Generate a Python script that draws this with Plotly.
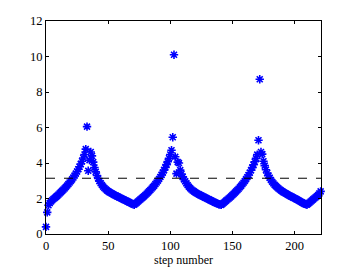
import plotly.graph_objects as go
import math

# step values, x = 0 .. 221
values_cycle1 = [
    0.40, 1.22, 1.62, 1.74, 1.83, 1.90, 1.97, 2.03, 2.09, 2.15,
    2.22, 2.29, 2.36, 2.43, 2.50, 2.57, 2.65, 2.73, 2.81, 2.90,
    2.99, 3.08, 3.18, 3.29, 3.40, 3.52, 3.65, 3.79, 3.94, 4.10,
    4.28, 4.48, 4.78, 6.05, 3.56, 4.16, 4.62, 4.40, 4.05, 3.75,
    3.50, 3.30, 3.13, 2.98, 2.86, 2.76, 2.67, 2.59, 2.52, 2.46,
    2.41, 2.36, 2.32, 2.28, 2.24, 2.20, 2.17, 2.13, 2.10, 2.06,
    2.03, 1.99, 1.96, 1.92, 1.89, 1.85, 1.82, 1.78, 1.75, 1.71,
    1.68, 1.65,
]
values_cycle2 = [
    1.71, 1.77, 1.83, 1.89, 1.95, 2.01, 2.07, 2.13, 2.20,
    2.27, 2.34, 2.41, 2.48, 2.56, 2.64, 2.72, 2.81, 2.90, 3.00,
    3.10, 3.21, 3.33, 3.46, 3.60, 3.75, 3.91, 4.08, 4.27, 4.48,
    4.72, 5.45, 10.10, 4.35, 3.40, 4.05, 4.00, 3.60, 3.38, 3.22,
    3.08, 2.97, 2.85, 2.75, 2.66, 2.58, 2.51, 2.45, 2.40, 2.35,
    2.31, 2.27, 2.23, 2.19, 2.16, 2.12, 2.09, 2.05, 2.02, 1.98,
    1.95, 1.91, 1.88, 1.84, 1.81, 1.77, 1.74, 1.71, 1.68, 1.66,
]
values_cycle3 = [
    1.64, 1.70, 1.76, 1.82, 1.88, 1.94, 2.00, 2.06, 2.12,
    2.19, 2.26, 2.33, 2.40, 2.47, 2.55, 2.63, 2.71, 2.80, 2.89,
    2.99, 3.09, 3.20, 3.32, 3.45, 3.59, 3.74, 3.90, 4.07, 4.26,
    4.47, 5.28, 8.72, 4.62, 4.50, 4.10, 3.85, 3.62, 3.44, 3.29,
    3.16, 3.04, 2.94, 2.85, 2.77, 2.70, 2.63, 2.57, 2.51, 2.46,
    2.41, 2.36, 2.32, 2.28, 2.24, 2.20, 2.16, 2.12, 2.09, 2.05,
    2.01, 1.98, 1.94, 1.90, 1.86, 1.82, 1.78, 1.74, 1.70, 1.67,
]
values_tail = [
    1.65, 1.71, 1.77, 1.83, 1.89, 1.95, 2.01, 2.07, 2.13, 2.20,
    2.28, 2.40, 2.18,
]

values = values_cycle1 + values_cycle2 + values_cycle3 + values_tail
steps = list(range(len(values)))

reference_level = math.pi
x_ticks = [0, 50, 100, 150, 200]
y_ticks = [0, 2, 4, 6, 8, 10, 12]

fig = go.Figure()
fig.add_trace(go.Scatter(
    x=steps, y=values, mode="markers",
    marker=dict(symbol="asterisk-open", size=7, color="#0000ff",
                line=dict(color="#0000ff", width=1.6)),
    showlegend=False, cliponaxis=False,
))
fig.add_trace(go.Scatter(
    x=[0, steps[-1]], y=[reference_level, reference_level], mode="lines",
    line=dict(color="black", width=1, dash="dash"),
    showlegend=False,
))

axis_common = dict(
    showline=True, linecolor="black", linewidth=1, mirror="ticks",
    ticks="inside", ticklen=3, tickcolor="black", showgrid=False,
    zeroline=False, automargin=False,
    tickfont=dict(family="Liberation Serif", size=12.5, color="black"),
)
fig.update_xaxes(range=[0, 221.3], tickvals=x_ticks,
                 title=dict(text="step number", standoff=6,
                            font=dict(family="Liberation Serif", size=12, color="black")),
                 **axis_common)
fig.update_yaxes(range=[0, 12], tickvals=y_ticks, **axis_common)

fig.update_layout(
    template="none",
    width=347, height=259,
    margin=dict(l=38, r=34, t=13, b=33),
    paper_bgcolor="white", plot_bgcolor="white",
)
fig.write_html("out.html")
